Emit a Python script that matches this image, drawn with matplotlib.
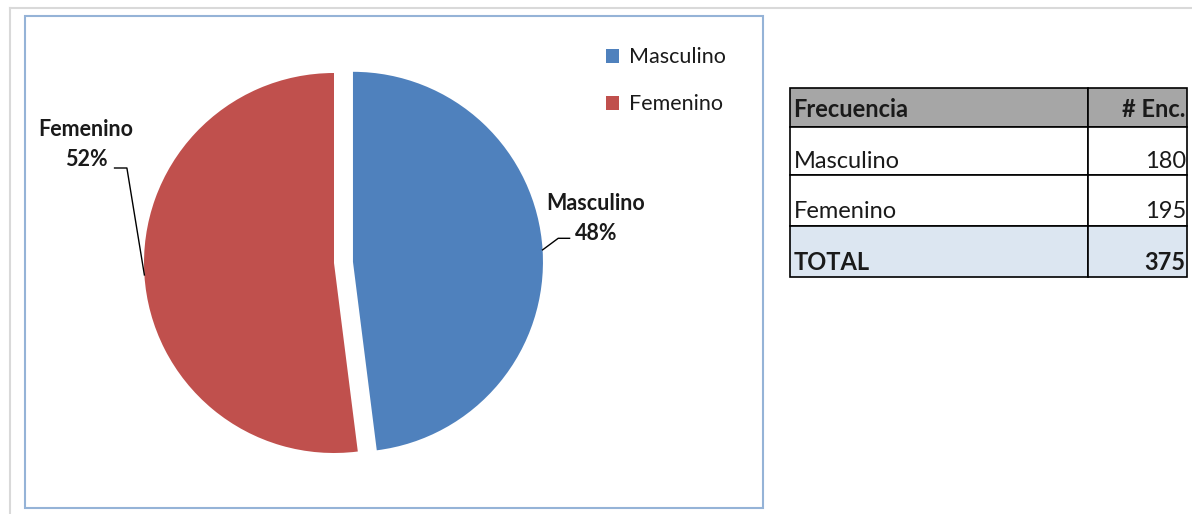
import numpy as np
import matplotlib.pyplot as plt
from matplotlib.patches import Rectangle

plt.rcParams['font.family'] = ['Lato', 'DejaVu Sans']

# data
categories = ['Masculino', 'Femenino']
counts = [180, 195]
colors = ['#4f81bd', '#c0504d']
table_header = ['Frecuencia', '# Enc.']

W, H = 1192, 514
fig = plt.figure(figsize=(W / 100, H / 100), dpi=100)

def fx(px):
    return px / W

def fy(py):
    return 1 - py / H

# outer sheet edge and chart frame
fig.add_artist(plt.Line2D([fx(10), fx(1192)], [fy(8), fy(8)], color='#d9d9d9', lw=1.5))
fig.add_artist(plt.Line2D([fx(10), fx(10)], [fy(8), fy(514)], color='#d9d9d9', lw=1.5))
fig.add_artist(Rectangle((fx(25), fy(508)), fx(763) - fx(25), fy(16) - fy(508),
                         fill=False, edgecolor='#95b3d7', lw=1.5))

# pie axes: centre (334, 263) px, radius 190 px
R = 190
L = 1.3
S = 2 * L * R
cx, cy = 334, 263
ax = fig.add_axes([fx(cx - S / 2), fy(cy + S / 2), S / W, S / H])
wedges, _ = ax.pie(counts, colors=colors, startangle=90, counterclock=False,
                   explode=[0.1, 0], radius=1,
                   wedgeprops=dict(linewidth=0))
ax.set_xlim(-L, L)
ax.set_ylim(-L, L)
ax.set_aspect('equal')
ax.axis('off')

total = sum(counts)
pcts = [round(100 * c / total) for c in counts]

# data labels with leader lines
lab_pos = [(1.379, 0.235), (-1.305, 0.625)]
elbows = [[(1.18, 0.13), (1.24, 0.13)], [(-1.09, 0.50), (-1.155, 0.50)]]
for w, name, p, pos, elb in zip(wedges, categories, pcts, lab_pos, elbows):
    mid = np.deg2rad((w.theta1 + w.theta2) / 2)
    ox, oy = w.center
    start = (ox + np.cos(mid), oy + np.sin(mid))
    xs = [start[0]] + [e[0] for e in elb]
    ys = [start[1]] + [e[1] for e in elb]
    ax.plot(xs, ys, color='black', lw=1, clip_on=False)
    ax.text(pos[0], pos[1], f'{name}\n{p}%', ha='center', va='center',
            fontsize=15.5, fontweight='bold', color='#1a1a1a',
            linespacing=1.5, clip_on=False)

# legend
leg = fig.legend(wedges, categories, loc='upper left',
                 bbox_to_anchor=(fx(587), fy(28)), frameon=False,
                 fontsize=15.5, handlelength=0.6, handleheight=0.6,
                 handletextpad=0.45, labelspacing=1.25)
for txt in leg.get_texts():
    txt.set_color('#1a1a1a')

# frequency table
tab = fig.add_axes([fx(790), fy(277), fx(1187) - fx(790), fy(88) - fy(277)])
tab.axis('off')
rows = [[c, str(n)] for c, n in zip(categories, counts)] + [['TOTAL', str(total)]]
cell_text = [table_header] + rows
t = tab.table(cellText=cell_text, colWidths=[298 / 397, 99 / 397],
              bbox=[0, 0, 1, 1], cellLoc='left')
t.auto_set_font_size(False)
row_h = [39, 48, 51, 51]
for (r, c), cell in t.get_celld().items():
    cell.set_height(row_h[r] / sum(row_h))
    cell.set_edgecolor('black')
    cell.set_linewidth(1.2)
    txt = cell.get_text()
    txt.set_fontsize(17)
    txt.set_color('#1a1a1a')
    if c == 1:
        txt.set_ha('right')
        cell._loc = 'right'
    cell.PAD = 0.012
    if r == 0:
        cell.set_facecolor('#a6a6a6')
        txt.set_fontweight('bold')
        txt.set_va('center_baseline')
    else:
        txt.set_va('top')
        if r == len(cell_text) - 1:
            cell.set_facecolor('#dce6f1')
            txt.set_fontweight('bold')
        else:
            cell.set_facecolor('white')

fig.savefig('out.png', dpi=100)
